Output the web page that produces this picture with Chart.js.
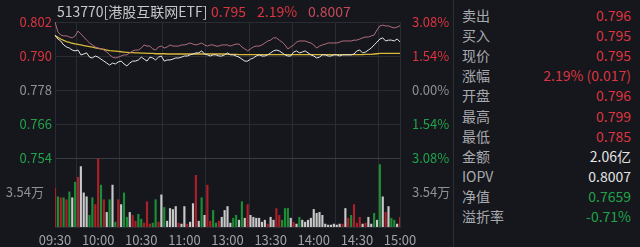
<!DOCTYPE html>
<html>
<head>
<meta charset="utf-8">
<script src="https://cdn.jsdelivr.net/npm/chart.js@4.4.0/dist/chart.umd.min.js"></script>
<style>
body { margin: 0; background: #15171c; width: 640px; height: 247px; overflow: hidden; font-family: "Noto Sans CJK SC", "Noto Sans", sans-serif; }
#wrap { position: relative; width: 640px; height: 247px; }
#chartBox { position: absolute; left: 0; top: 0; width: 453px; height: 247px; }
.head { position: absolute; top: 1px; font-size: 14px; line-height: 20px; white-space: pre; }
#panel { position: absolute; left: 453px; top: 0; width: 186px; height: 247px; border-left: 1px solid #2b2e34; }
.row { position: absolute; left: 8px; right: 9px; height: 20px; line-height: 20px; font-size: 14px; }
.row .l { float: left; color: #a8aaaf; }
.row .v { float: right; }
</style>
</head>
<body>
<div id="wrap">
  <div id="chartBox"><canvas id="fenshi"></canvas></div>
  <div id="head"></div>
  <div id="panel"></div>
</div>
<script>
const RED = "#dc3440", GREEN = "#20a34a", GRAY = "#8e9095", WHITE = "#e4e4e4";

const prevClose = 0.778;
const timeTicks = ["09:30", "10:00", "10:30", "11:00", "13:00", "13:30", "14:00", "14:30", "15:00"];
const priceTicks = [0.754, 0.766, 0.778, 0.790, 0.802];
const pctTicks = [-3.08, -1.54, 0, 1.54, 3.08];
const volTicks = [3.54];

// one point every 2 minutes
const price = [
  .7974,.7960,.7953,.7939,.7932,.7928,.7921,.7918,.7921,.7904,
  .7907,.7911,.7896,.7893,.7900,.7896,.7889,.7882,.7875,.7868,
  .7875,.7872,.7879,.7882,.7872,.7865,.7875,.7882,.7882,.7886,
  .7896,.7889,.7882,.7896,.7893,.7886,.7896,.7900,.7882,.7886,
  .7886,.7889,.7893,.7893,.7896,.7900,.7900,.7904,.7907,.7911,
  .7911,.7918,.7907,.7904,.7900,.7904,.7904,.7900,.7900,.7904,
  .7911,.7904,.7904,.7900,.7896,.7889,.7882,.7882,.7889,.7893,
  .7900,.7904,.7900,.7900,.7904,.7911,.7918,.7921,.7918,.7911,
  .7904,.7900,.7900,.7914,.7918,.7911,.7914,.7918,.7911,.7904,
  .7900,.7893,.7896,.7904,.7904,.7900,.7900,.7904,.7904,.7900,
  .7904,.7904,.7904,.7904,.7907,.7918,.7921,.7911,.7914,.7921,
  .7928,.7939,.7949,.7960,.7964,.7953,.7956,.7956,.7953,.7960,
  .7950
];
const iopv = [
  .8020,.7985,.7974,.7971,.7971,.7967,.7964,.7971,.7988,.7978,
  .7967,.7956,.7946,.7939,.7932,.7928,.7925,.7921,.7914,.7904,
  .7896,.7893,.7896,.7900,.7904,.7904,.7911,.7918,.7921,.7921,
  .7928,.7939,.7935,.7935,.7925,.7921,.7932,.7935,.7928,.7932,
  .7939,.7935,.7935,.7935,.7939,.7939,.7942,.7946,.7942,.7939,
  .7942,.7946,.7939,.7935,.7939,.7939,.7935,.7935,.7939,.7939,
  .7939,.7935,.7939,.7942,.7942,.7932,.7925,.7918,.7925,.7932,
  .7935,.7935,.7939,.7946,.7953,.7956,.7964,.7964,.7956,.7949,
  .7939,.7925,.7932,.7939,.7949,.7953,.7953,.7953,.7949,.7946,
  .7939,.7928,.7935,.7939,.7942,.7946,.7946,.7946,.7946,.7949,
  .7953,.7953,.7953,.7953,.7956,.7956,.7960,.7964,.7967,.7967,
  .7971,.7974,.7992,.8006,.8009,.8006,.8006,.8002,.7999,.8002,
  .8007
];
const avgPrice = [
  .7972,.7966,.7960,.7955,.7951,.7948,.7945,.7943,.7941,.7939,
  .7937,.7935,.7933,.7931,.7929,.7927,.7925,.7923,.7921,.7919,
  .7918,.7917,.7916,.7915,.7914,.7913,.7912,.7912,.7911,.7911,
  .7910,.7910,.7909,.7909,.7909,.7908,.7908,.7908,.7908,.7907,
  .7907,.7907,.7907,.7907,.7907,.7907,.7907,.7907,.7907,.7907,
  .7907,.7907,.7907,.7907,.7907,.7907,.7907,.7907,.7907,.7907,
  .7906,.7906,.7906,.7906,.7905,.7905,.7905,.7905,.7905,.7905,
  .7905,.7905,.7905,.7905,.7905,.7905,.7905,.7905,.7905,.7905,
  .7905,.7905,.7905,.7905,.7905,.7905,.7905,.7905,.7905,.7905,
  .7905,.7905,.7905,.7905,.7905,.7905,.7905,.7905,.7905,.7905,
  .7905,.7905,.7905,.7905,.7905,.7905,.7905,.7905,.7906,.7906,
  .7906,.7907,.7908,.7909,.7909,.7909,.7909,.7909,.7909,.7909,
  .7909
];
// 万
const volume = [
  4.0,3.1,3.0,3.0,2.8,3.6,3.0,4.6,5.1,6.2,
  3.5,3.1,1.2,3.0,2.3,7.0,4.3,2.8,1.5,2.8,
  4.3,0.5,2.8,2.3,3.5,1.0,1.5,1.2,0.6,1.3,
  0.8,0.4,2.6,0.3,0.4,2.8,0.5,3.3,2.0,0.6,
  1.9,1.8,2.1,0.4,0.3,2.1,0.3,0.5,2.4,5.3,
  0.6,3.0,1.2,4.3,0.6,1.7,0.4,0.6,1.0,1.7,
  2.1,0.4,0.9,1.2,0.7,2.6,0.9,2.3,1.2,1.0,
  0.9,0.9,0.5,0.7,0.3,1.0,0.7,1.9,1.2,0.7,
  1.9,1.9,0.9,0.5,0.3,1.0,0.7,0.5,0.7,0.9,
  1.8,1.4,1.5,1.2,0.3,0.2,0.2,0.3,0.2,0.3,
  0.3,1.9,0.9,1.2,2.3,0.4,1.0,0.3,0.4,1.0,
  0.3,1.4,0.7,6.4,3.1,1.5,2.1,0.9,0.7,0.3,1.0
];
const volSide = (
  "rgrgrgwgrw" + "wwggrrgrwg" + "wgrwggwrrg" + "grrrggrwgw" +
  "wwwrwwrwwr" + "wgwrrggrww" + "wwggwgwrww" + "wwwwrwwrrg" +
  "ggwrwgwwww" + "wwwwwwwwww" + "rwrgrrrwrw" + "wgwgwrwggwr"
).split("");

const panelLabels = ["卖出", "买入", "现价", "涨幅", "开盘", "最高", "最低", "金额", "IOPV", "净值", "溢折率"];
const panelValues = ["0.796", "0.795", "0.795", "2.19% (0.017)", "0.796", "0.799", "0.785", "2.06亿", "0.8007", "0.7659", "-0.71%"];
const panelColors = [RED, RED, RED, RED, RED, RED, RED, WHITE, WHITE, GREEN, GREEN];

const headTexts = ["513770[港股互联网ETF]", "0.795", "2.19%", "0.8007"];
const headColors = ["#c6c7ca", RED, RED, "#c44a5a"];
const headX = [57, 211, 257, 308];

// header + panel
const head = document.getElementById("head");
headTexts.forEach((t, i) => {
  const s = document.createElement("span");
  s.className = "head";
  s.textContent = t;
  s.style.left = headX[i] + "px";
  s.style.color = headColors[i];
  head.appendChild(s);
});
const panel = document.getElementById("panel");
panelLabels.forEach((t, i) => {
  const r = document.createElement("div");
  r.className = "row";
  r.style.top = (5 + i * 20.1) + "px";
  r.innerHTML = `<span class="l">${t}</span><span class="v" style="color:${panelColors[i]}">${panelValues[i]}</span>`;
  panel.appendChild(r);
});

const labels = price.map((_, i) => (i % 15 === 0 ? timeTicks[i / 15] : ""));
const barColor = { r: "#ad1f29", g: "#1b8f35", w: "#c8c8c8" };
const tickFont = { family: "Noto Sans CJK SC", size: 13 };
const gridCol = "#292c32";

function fixWidth(w) { return s => { s.width = w; }; }
function upDown(v, ref) { return v > ref ? RED : v < ref ? GREEN : GRAY; }

new Chart(document.getElementById("fenshi"), {
  data: {
    labels: labels,
    datasets: [
      { type: "line", data: price, yAxisID: "yPrice", borderColor: "#e6e6e6", borderWidth: 1, pointRadius: 0, tension: 0 },
      { type: "line", data: iopv, yAxisID: "yPrice", borderColor: "#b36d7e", borderWidth: 1, pointRadius: 0, tension: 0 },
      { type: "line", data: avgPrice, yAxisID: "yPrice", borderColor: "#d8b83a", borderWidth: 1.3, pointRadius: 0, tension: 0 },
      { type: "bar", data: volume, yAxisID: "yVol", backgroundColor: volSide.map(k => barColor[k]), barThickness: 1.5 }
    ]
  },
  options: {
    responsive: true,
    maintainAspectRatio: false,
    animation: false,
    layout: { padding: { top: 22, bottom: 0, left: 0, right: 0 } },
    plugins: { legend: { display: false }, tooltip: { enabled: false } },
    scales: {
      x: {
        offset: false,
        grid: { color: gridCol, drawTicks: false },
        border: { display: true, color: gridCol },
        afterBuildTicks: s => { s.ticks = s.ticks.filter(t => t.value % 15 === 0); },
        afterFit: s => { s.height = 20; },
        ticks: { autoSkip: false, maxRotation: 0, padding: 5, color: "#a0a2a7", font: tickFont,
          callback: function (v) { return labels[v]; } }
      },
      yPrice: {
        position: "left", stack: "L", stackWeight: 136, weight: 1,
        min: 0.754, max: 0.802,
        afterBuildTicks: s => { s.ticks = priceTicks.map(v => ({ value: v })); },
        afterFit: fixWidth(55),
        grid: { drawTicks: false, color: c => (c.tick && c.tick.value === 0.754 ? "#3a3d44" : gridCol) },
        border: { color: gridCol },
        ticks: { padding: 3, font: tickFont, color: c => upDown(c.tick.value, prevClose),
          callback: v => v.toFixed(3) }
      },
      yVol: {
        position: "left", stack: "L", stackWeight: 69, weight: 0,
        min: 0, max: 7.08,
        afterBuildTicks: s => { s.ticks = volTicks.map(v => ({ value: v })); },
        afterFit: fixWidth(55),
        grid: { display: false },
        border: { color: gridCol },
        ticks: { padding: 3, font: tickFont, color: GRAY, callback: v => v.toFixed(2) + "万" }
      },
      yPct: {
        position: "right", stack: "R", stackWeight: 136, weight: 0,
        min: -3.08, max: 3.08,
        afterBuildTicks: s => { s.ticks = pctTicks.map(v => ({ value: v })); },
        afterFit: fixWidth(53),
        grid: { display: false },
        border: { color: gridCol },
        ticks: { padding: 4, font: tickFont, color: c => upDown(c.tick.value, 0),
          callback: v => Math.abs(v).toFixed(2) + "%" }
      },
      yVolR: {
        position: "right", stack: "R", stackWeight: 69, weight: 1,
        min: 0, max: 7.08,
        afterBuildTicks: s => { s.ticks = volTicks.map(v => ({ value: v })); },
        afterFit: fixWidth(53),
        grid: { display: false },
        border: { color: gridCol },
        ticks: { padding: 4, font: tickFont, color: GRAY, callback: v => v.toFixed(2) + "万" }
      }
    }
  }
});
</script>
</body>
</html>
